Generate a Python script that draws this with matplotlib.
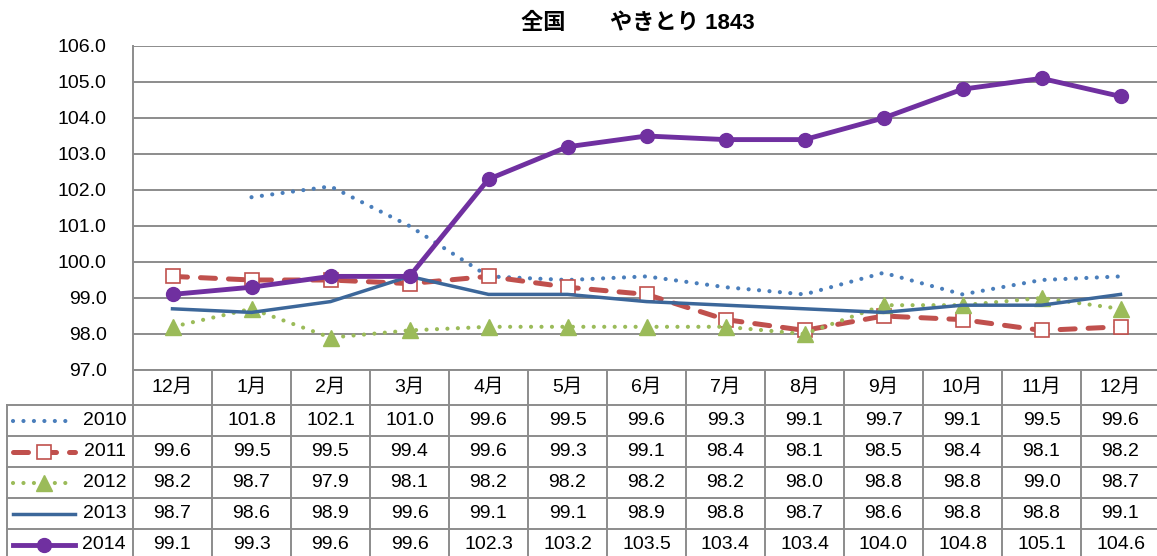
import matplotlib
matplotlib.use("Agg")
import matplotlib.pyplot as plt
import numpy as np

plt.rcParams['font.family'] = ['Liberation Sans', 'Noto Sans CJK JP', 'DejaVu Sans']

months = ['12月', '1月', '2月', '3月', '4月', '5月', '6月', '7月', '8月', '9月', '10月', '11月', '12月']
years = ['2010', '2011', '2012', '2013', '2014']
v2010 = [None, 101.8, 102.1, 101.0, 99.6, 99.5, 99.6, 99.3, 99.1, 99.7, 99.1, 99.5, 99.6]
v2011 = [99.6, 99.5, 99.5, 99.4, 99.6, 99.3, 99.1, 98.4, 98.1, 98.5, 98.4, 98.1, 98.2]
v2012 = [98.2, 98.7, 97.9, 98.1, 98.2, 98.2, 98.2, 98.2, 98.0, 98.8, 98.8, 99.0, 98.7]
v2013 = [98.7, 98.6, 98.9, 99.6, 99.1, 99.1, 98.9, 98.8, 98.7, 98.6, 98.8, 98.8, 99.1]
v2014 = [99.1, 99.3, 99.6, 99.6, 102.3, 103.2, 103.5, 103.4, 103.4, 104.0, 104.8, 105.1, 104.6]
series = [v2010, v2011, v2012, v2013, v2014]
yticks = [97.0, 98.0, 99.0, 100.0, 101.0, 102.0, 103.0, 104.0, 105.0, 106.0]
title = '全国　　やきとり 1843'

W, H = 1157, 556
fig = plt.figure(figsize=(W / 100, H / 100), dpi=100)
FS = 14

# pixel layout
L, R, T, B = 133, 1160, 46, 370
ax = fig.add_axes([L / W, 1 - B / H, (R - L) / W, (B - T) / H])

styles = [
    dict(color='#4A7EBB', lw=3, linestyle=(0, (0.01, 2.5)), dash_capstyle='round', marker=None),
    dict(color='#C0504D', lw=3.6, linestyle=(0, (3, 2.6)), dash_capstyle='round', marker='s',
         ms=10, mfc='white', mec='#C0504D', mew=1.2),
    dict(color='#9BBB59', lw=3, linestyle=(0, (0.01, 2.5)), dash_capstyle='round', marker='^',
         ms=11, mfc='#9BBB59', mec='#9BBB59'),
    dict(color='#3C679A', lw=2.5, linestyle='-', marker=None),
    dict(color='#7030A0', lw=3.5, linestyle='-', marker='o', ms=10, mfc='#7030A0', mec='#7030A0'),
]

x = np.arange(len(months))
for vals, st in zip(series, styles):
    y = np.array([np.nan if v is None else v for v in vals], dtype=float)
    ax.plot(x, y, **st, clip_on=False)

ax.set_xlim(-0.5, len(months) - 0.5)
ax.set_ylim(97.0, 106.0)
ax.set_yticks(yticks)
ax.set_yticklabels([f'{t:.1f}' for t in yticks], fontsize=FS)
ax.tick_params(axis='y', length=0, pad=19)
ax.set_xticks([])
for t in yticks:
    ax.axhline(t, color='#8C8C8C', lw=1.4, zorder=0)
for s in ['top', 'right', 'bottom']:
    ax.spines[s].set_visible(False)
ax.spines['left'].set_color('#8C8C8C')
ax.spines['left'].set_linewidth(1.4)

fig.text(638 / W, 1 - 23 / H, title, ha='center', va='center', fontsize=16, fontweight='bold')

# table in pixel coordinates
tab = fig.add_axes([0, 0, 1, 1], facecolor='none')
tab.set_xlim(0, W)
tab.set_ylim(H, 0)
tab.axis('off')
gc = '#8C8C8C'
colw = (R - L) / len(months)
col_edges = [L + i * colw for i in range(len(months) + 1)]
row_edges = [370, 405, 436, 467, 498, 529, 560]
legL = 7

tab.plot([L, R], [row_edges[0], row_edges[0]], color=gc, lw=1.4)
for ry in row_edges[1:]:
    tab.plot([legL, R], [ry, ry], color=gc, lw=1.4)
for cx in col_edges:
    tab.plot([cx, cx], [row_edges[0], H], color=gc, lw=1.4)
tab.plot([legL, legL], [row_edges[1], H], color=gc, lw=1.4)

for i, m in enumerate(months):
    cx = (col_edges[i] + col_edges[i + 1]) / 2
    tab.text(cx, (row_edges[0] + row_edges[1]) / 2, m, ha='center', va='center', fontsize=FS)

for r, (yr, vals, st) in enumerate(zip(years, series, styles)):
    cy = (row_edges[r + 1] + row_edges[r + 2]) / 2
    kw = dict(st)
    mk = kw.pop('marker')
    ms = kw.pop('ms', None)
    mfc = kw.pop('mfc', None); mec = kw.pop('mec', None); mew = kw.pop('mew', None)
    tab.plot([13, 75], [cy, cy], **kw)
    if mk:
        tab.plot([44], [cy], marker=mk, ms=ms, mfc=mfc, mec=mec,
                 mew=mew if mew else 1, linestyle='none')
    tab.text(126, cy, yr, ha='right', va='center', fontsize=FS)
    for i, v in enumerate(vals):
        if v is None:
            continue
        cx = (col_edges[i] + col_edges[i + 1]) / 2
        tab.text(cx, cy, f'{v:.1f}', ha='center', va='center', fontsize=FS)

fig.savefig('out.png', dpi=100)
